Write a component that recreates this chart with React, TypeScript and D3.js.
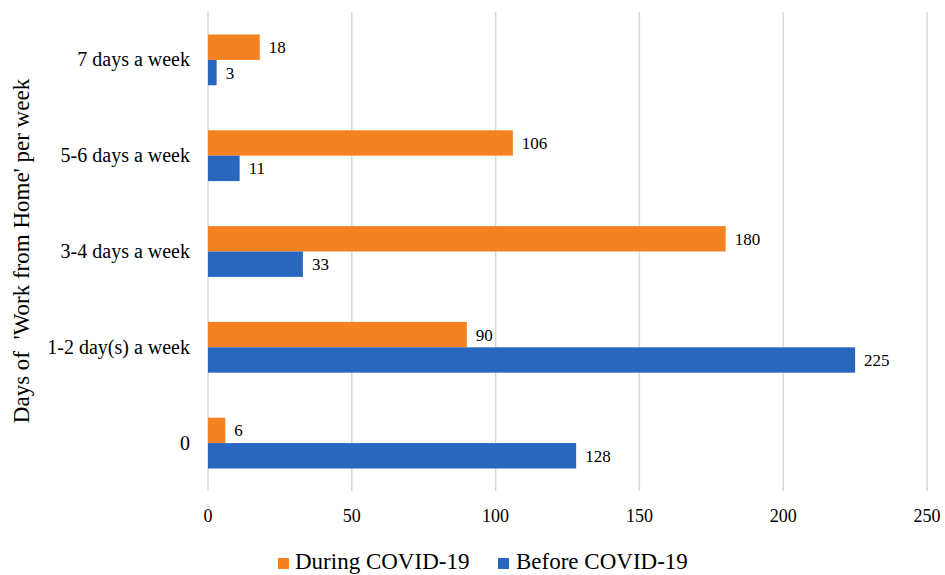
import React from "react";
import * as d3 from "d3";

const categories = ["7 days a week", "5-6 days a week", "3-4 days a week", "1-2 day(s) a week", "0"];
const seriesNames = ["During COVID-19", "Before COVID-19"];
const duringValues = [18, 106, 180, 90, 6];
const beforeValues = [3, 11, 33, 225, 128];
const xTicks = [0, 50, 100, 150, 200, 250];
const colors = ["#F58220", "#2967BE"];

const W = 945;
const H = 575;
const left = 208;
const right = 927;
const top = 12;
const bottom = 491;
const font = "'Liberation Serif', 'Times New Roman', serif";
const txt = { fontFamily: font, fill: "#000" };

export default function App() {
  const x = d3.scaleLinear().domain([0, 250]).range([left, right]);
  const y = d3.scaleBand<string>().domain(categories).range([top, bottom]).paddingInner(0.47).paddingOuter(0.235);
  const inner = d3.scaleBand<string>().domain(seriesNames).range([0, y.bandwidth()]);
  const series = [duringValues, beforeValues];

  return (
    <svg width={W} height={H} style={{ position: "absolute", left: 0, top: 0, background: "#fff" }}>
      {xTicks.map((t) => (
        <g key={t}>
          <line x1={x(t)} x2={x(t)} y1={top} y2={bottom} stroke="#D9D9D9" strokeWidth={1.5} />
          <text x={x(t)} y={522} textAnchor="middle" fontSize={18} style={txt}>{t}</text>
        </g>
      ))}
      {categories.map((c, i) => (
        <g key={c}>
          <text x={190} y={(y(c) as number) + y.bandwidth() / 2 + 6.5} textAnchor="end" fontSize={20} style={txt}>{c}</text>
          {series.map((vals, s) => {
            const yy = (y(c) as number) + (inner(seriesNames[s]) as number);
            return (
              <g key={s}>
                <rect x={x(0)} y={yy} width={x(vals[i]) - x(0)} height={inner.bandwidth()} fill={colors[s]} />
                <text x={x(vals[i]) + 9} y={yy + inner.bandwidth() / 2 + 6} fontSize={17} style={txt}>{vals[i]}</text>
              </g>
            );
          })}
        </g>
      ))}
      <text transform="translate(29,251) rotate(-90)" textAnchor="middle" fontSize={23} style={{ ...txt, whiteSpace: "pre" }}>{"Days of  'Work from Home' per week"}</text>
      <g>
        <rect x={278} y={558} width={11} height={11} fill={colors[0]} />
        <text x={295} y={569} fontSize={23} style={txt}>{seriesNames[0]}</text>
        <rect x={498} y={558} width={11} height={11} fill={colors[1]} />
        <text x={516} y={569} fontSize={23} style={txt}>{seriesNames[1]}</text>
      </g>
    </svg>
  );
}
